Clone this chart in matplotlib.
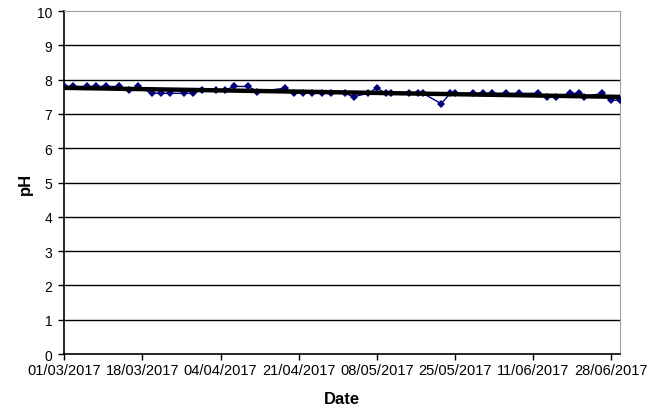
import numpy as np
import pandas as pd
import matplotlib
matplotlib.use("Agg")
import matplotlib.pyplot as plt
import matplotlib.dates as mdates

plt.rcParams['font.family'] = ['Liberation Sans', 'DejaVu Sans']

# pH readings
dates = ["01/03/2017", "03/03/2017", "06/03/2017", "08/03/2017", "10/03/2017",
         "13/03/2017", "15/03/2017", "17/03/2017", "20/03/2017", "22/03/2017",
         "24/03/2017", "27/03/2017", "29/03/2017", "31/03/2017", "03/04/2017",
         "05/04/2017", "07/04/2017", "10/04/2017", "12/04/2017", "18/04/2017",
         "20/04/2017", "22/04/2017", "24/04/2017", "26/04/2017", "28/04/2017",
         "01/05/2017", "03/05/2017", "06/05/2017", "08/05/2017", "10/05/2017",
         "11/05/2017", "15/05/2017", "17/05/2017", "18/05/2017", "22/05/2017",
         "24/05/2017", "25/05/2017", "29/05/2017", "31/05/2017", "02/06/2017",
         "05/06/2017", "08/06/2017", "12/06/2017", "14/06/2017", "16/06/2017",
         "19/06/2017", "21/06/2017", "22/06/2017", "26/06/2017", "28/06/2017",
         "30/06/2017"]
ph = [7.8, 7.8, 7.8, 7.8, 7.8,
      7.8, 7.7, 7.8, 7.6, 7.6,
      7.6, 7.6, 7.6, 7.7, 7.7,
      7.7, 7.8, 7.8, 7.65, 7.75,
      7.6, 7.6, 7.6, 7.6, 7.6,
      7.6, 7.5, 7.6, 7.75, 7.6,
      7.6, 7.6, 7.6, 7.6, 7.3,
      7.6, 7.6, 7.6, 7.6, 7.6,
      7.6, 7.6, 7.6, 7.5, 7.5,
      7.6, 7.6, 7.5, 7.6, 7.4,
      7.4]

x_ticks = ["01/03/2017", "18/03/2017", "04/04/2017", "21/04/2017",
           "08/05/2017", "25/05/2017", "11/06/2017", "28/06/2017"]

d = pd.to_datetime(dates, format="%d/%m/%Y")
xt = pd.to_datetime(x_ticks, format="%d/%m/%Y")
xnum = mdates.date2num(d)

# linear trend
k, b = np.polyfit(xnum, ph, 1)

fig = plt.figure(figsize=(6.65, 4.14), dpi=100)
ax = fig.add_axes([0.0967, 0.1425, 0.8363, 0.8285])

for yv in range(1, 10):
    ax.axhline(yv, color="black", lw=1.0, zorder=1)

ax.plot(d, ph, color="#000080", lw=1.0, marker="D", markersize=4,
        markeredgewidth=0, zorder=3)
ax.plot([d[0], d[-1]], [k * xnum[0] + b, k * xnum[-1] + b],
        color="black", lw=3.2, zorder=4)

ax.set_xlim(d[0], d[-1])
ax.set_ylim(0, 10)
ax.set_yticks(range(0, 11))
ax.set_xticks(xt)
ax.set_xticklabels(x_ticks, fontsize=10.5)

ax.tick_params(axis="both", direction="out", length=4.5, width=1,
               color="black", pad=2)
ax.tick_params(axis="y", labelsize=10, pad=4)

ax.spines["left"].set_color("black")
ax.spines["bottom"].set_color("black")
ax.spines["left"].set_linewidth(1.2)
ax.spines["bottom"].set_linewidth(1.2)
ax.spines["top"].set_color("#a0a0a0")
ax.spines["right"].set_color("#a0a0a0")

ax.set_xlabel("Date", fontsize=12, fontweight="bold", labelpad=10)
ax.set_ylabel("pH", fontsize=12, fontweight="bold", labelpad=3)

fig.savefig("out.png", dpi=100)
